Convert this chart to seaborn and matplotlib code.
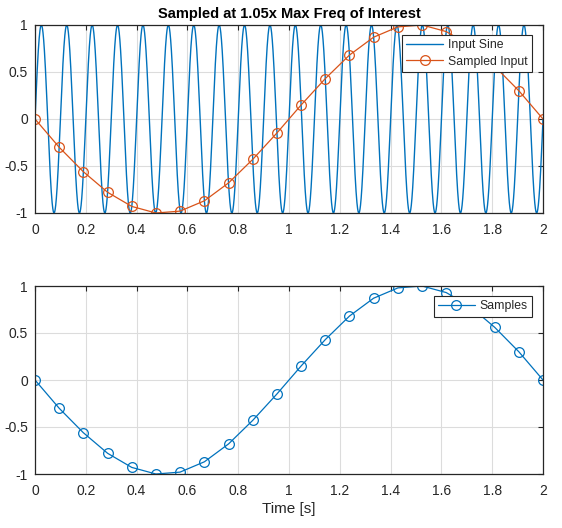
import numpy as np
import seaborn as sns
import matplotlib
matplotlib.use("Agg")
import matplotlib.pyplot as plt

# Input sine parameters (20 cycles over 2 s)
sine_freq_hz = 10.0
sine_amp = 1.0
t_start, t_end = 0.0, 2.0

# Sampled points
sample_t = [0.0, 0.095, 0.190, 0.286, 0.381, 0.476, 0.571, 0.667, 0.762, 0.857, 0.952,
            1.048, 1.143, 1.238, 1.333, 1.429, 1.524, 1.619, 1.714, 1.810, 1.905, 2.0]
sample_y = [0.0, -0.30, -0.56, -0.78, -0.93, -1.00, -0.98, -0.87, -0.68, -0.43, -0.15,
            0.15, 0.43, 0.68, 0.87, 0.98, 1.00, 0.93, 0.78, 0.56, 0.30, 0.0]

x_ticks = [0, 0.2, 0.4, 0.6, 0.8, 1, 1.2, 1.4, 1.6, 1.8, 2]
x_labels = ["0", "0.2", "0.4", "0.6", "0.8", "1", "1.2", "1.4", "1.6", "1.8", "2"]
y_ticks = [-1, -0.5, 0, 0.5, 1]
y_labels = ["-1", "-0.5", "0", "0.5", "1"]

blue = "#0072BD"
orange = "#D95319"

sns.set_style("white")
plt.rcParams["font.family"] = ["Liberation Sans", "DejaVu Sans"]

t_dense = np.linspace(t_start, t_end, 4001)
sine_y = sine_amp * np.sin(2 * np.pi * sine_freq_hz * t_dense)

fig = plt.figure(figsize=(5.62, 5.28), dpi=100)
ax1 = fig.add_axes([35 / 562, 1 - 213 / 528, 508 / 562, 188 / 528])
ax2 = fig.add_axes([35 / 562, 1 - 474 / 528, 508 / 562, 188 / 528])


def style_axes(ax):
    ax.set_xlim(0, 2)
    ax.set_ylim(-1, 1)
    ax.set_xticks(x_ticks)
    ax.set_xticklabels(x_labels)
    ax.set_yticks(y_ticks)
    ax.set_yticklabels(y_labels)
    ax.grid(True, color="#dcdcdc", linewidth=0.8)
    ax.set_axisbelow(True)
    ax.tick_params(direction="in", length=3.5, width=0.8, colors="#262626",
                   labelsize=10, top=True, right=True)
    ax.tick_params(axis="x", pad=7)
    ax.tick_params(axis="y", pad=5)
    for s in ax.spines.values():
        s.set_color("#262626")
        s.set_linewidth(0.9)


def add_legend(ax):
    leg = ax.legend(loc="upper right", bbox_to_anchor=(0.978, 0.947), fontsize=8.8,
                    frameon=True, fancybox=False, edgecolor="#262626",
                    handlelength=3.0, handletextpad=0.4, borderpad=0.35,
                    labelspacing=0.35, borderaxespad=0)
    leg.get_frame().set_linewidth(0.8)
    leg.get_frame().set_alpha(1)
    for txt in leg.get_texts():
        txt.set_color("#262626")


sns.lineplot(x=t_dense, y=sine_y, ax=ax1, color=blue, linewidth=1.0,
             label="Input Sine", estimator=None, sort=False)
sns.lineplot(x=sample_t, y=sample_y, ax=ax1, color=orange, linewidth=0.9,
             marker="o", markersize=7, markerfacecolor="none",
             markeredgecolor=orange, markeredgewidth=0.9,
             label="Sampled Input", estimator=None, sort=False)
style_axes(ax1)
ax1.set_xlabel("")
ax1.set_ylabel("")
ax1.set_title("Sampled at 1.05x Max Freq of Interest", fontsize=10.5,
              fontweight="bold", color="black", pad=5)
add_legend(ax1)

sns.lineplot(x=sample_t, y=sample_y, ax=ax2, color=blue, linewidth=0.9,
             marker="o", markersize=7, markerfacecolor="none",
             markeredgecolor=blue, markeredgewidth=0.9,
             label="Samples", estimator=None, sort=False)
style_axes(ax2)
ax2.set_ylabel("")
ax2.set_xlabel("Time [s]", fontsize=11, color="#262626", labelpad=3)
add_legend(ax2)

fig.savefig("out.png", dpi=100, facecolor="white")
